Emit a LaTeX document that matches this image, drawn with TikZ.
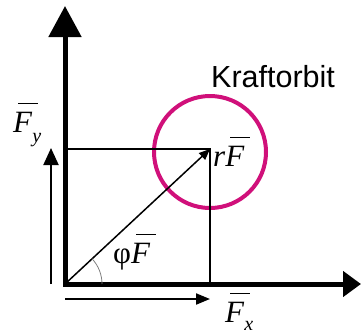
\documentclass[tikz,border=0pt]{standalone}
\usepackage{fontspec}
\setmainfont{Liberation Serif}
\newfontfamily\sansf{Liberation Sans}
\usetikzlibrary{arrows.meta}
\definecolor{orbit}{RGB}{208,16,122}
\newcommand\FB{\rlap{\kern5pt\rule[28pt]{20pt}{1.3pt}}\textit{F}}
\newcommand\subsz{\fontsize{20}{20}\selectfont\itshape}
\tikzset{
  lbl/.style={inner sep=0pt, anchor=base west, font=\fontsize{31}{31}\selectfont},
  axis/.style={line width=5pt, line join=miter},
  thin/.style={line width=1.5pt},
  comp/.style={line width=2pt},
}
\begin{document}
\begin{tikzpicture}[x=1pt,y=-1pt]
\useasboundingbox[fill=white] (0,0) rectangle (361,333);
\coordinate (O) at (65,284);
\coordinate (Ytop) at (65,6);
\coordinate (Xend) at (361,284);
\coordinate (P) at (210,149);
\coordinate (A) at (65,149);
\coordinate (B) at (210,284);
\coordinate (FyS) at (51,284);
\coordinate (FyE) at (51,148);
\coordinate (FxS) at (65,299);
\coordinate (FxE) at (210,299);
% circle
\draw[orbit, line width=4pt] (210,152) circle[radius=56];
% projections
\draw[thin] (A) -- (P) -- (B);
% axes
\draw[axis, {Triangle[length=31pt,width=32pt]}-{Triangle[length=18pt,width=25pt]}] (Ytop) -- (O) -- (Xend);
% force vector
\draw[thin, -{Triangle[length=11pt,width=9pt]}] (O) -- (P);
% components
\draw[comp, -{Triangle[length=17pt,width=15pt]}] (FyS) -- (FyE);
\draw[comp, -{Triangle[length=14pt,width=11pt]}] (FxS) -- (FxE);
% angle
\draw[gray, line width=0.8pt] (102,284) arc[start angle=0, end angle=-43, radius=37];
% labels
\node[lbl] (fy) at (13,132) {\FB\raisebox{-10pt}{\subsz y}};
\node[lbl] (fx) at (225,322) {\FB\raisebox{-8pt}{\subsz x}};
\node[lbl] (rf) at (213,166) {\textit{r}\FB};
\node[lbl] (pf) at (113,263) {φ\FB};
\node[inner sep=0pt, anchor=base west, font=\sansf\fontsize{30.5}{30.5}\selectfont] (ko) at (211,87) {Kraftorbit};
\end{tikzpicture}
\end{document}
